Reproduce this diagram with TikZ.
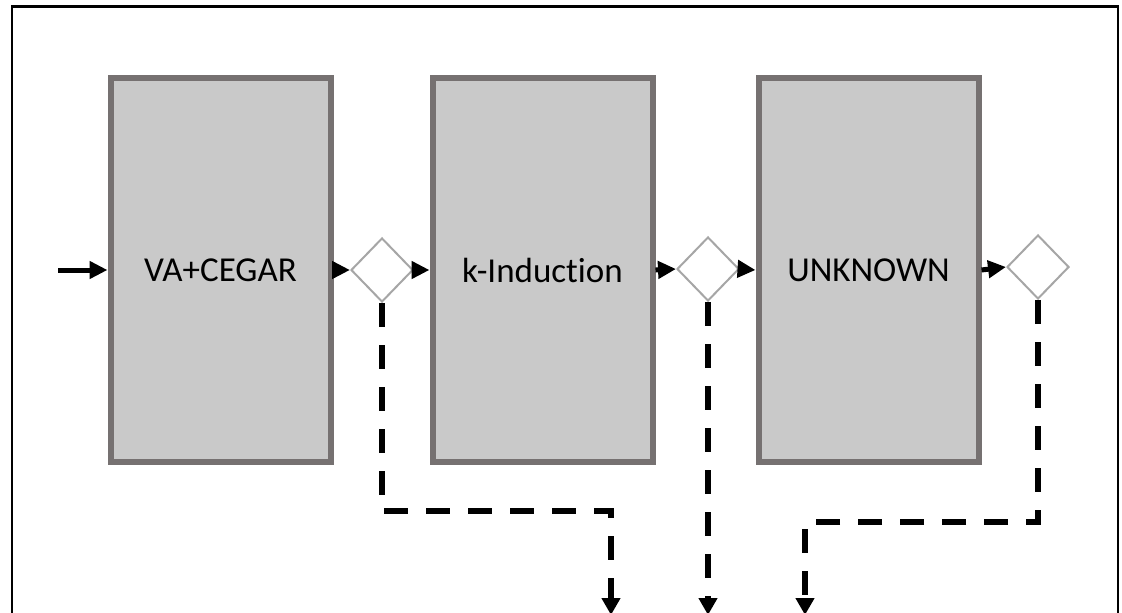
\documentclass[tikz,border=0pt]{standalone}
\usepackage{fontspec}
\setmainfont{Carlito}[RawFeature={-liga}]
\usetikzlibrary{shapes.geometric,arrows.meta}
\definecolor{boxfill}{HTML}{C9C9C9}
\definecolor{boxline}{HTML}{767171}
\definecolor{dialine}{HTML}{A6A6A6}
\tikzset{
  stage/.style={draw=boxline, fill=boxfill, line width=6pt, rectangle,
    minimum width=220pt, minimum height=384pt, inner sep=0pt,
    font=\fontsize{35}{40}\selectfont, text=black},
  decision/.style={draw=dialine, fill=white, line width=2pt, diamond,
    minimum width=62pt, minimum height=64pt, inner sep=0pt},
  flow/.style={line width=5pt, -{Triangle[length=18pt,width=17pt]}},
  branch/.style={line width=6pt, dash pattern=on 24pt off 18pt,
    -{Triangle[length=17pt,width=18pt]}},
}
\begin{document}
\begin{tikzpicture}[x=1pt,y=-1pt]
\useasboundingbox (0,0) rectangle (1122,613);
\fill[white] (0,0) rectangle (1122,613);
\draw[line width=2.5pt] (12,625) -- (12,6.5) -- (1118,6.5) -- (1118,625);

\node[stage] (b1) at (220.5,270) {VA+CEGAR};
\node[stage] (b2) at (542.5,270) {k-Induction};
\node[stage] (b3) at (868.5,270) {UNKNOWN};

\node[decision] (d1) at (382,270) {};
\node[decision] (d2) at (708,269) {};
\node[decision] (d3) at (1038,267) {};

\coordinate (in) at (58,270);
\coordinate (e1) at (611,615);
\coordinate (e2) at (708,615);
\coordinate (e3) at (805,615);

\draw[flow] (in) -- (b1.west);
\draw[flow] (b1.east) -- (d1.west);
\draw[flow] (d1.east) -- (b2.west);
\draw[flow] (b2.east) -- (d2.west);
\draw[flow] (d2.east) -- (b3.west);
\draw[flow] (b3.east) -- (d3.west);

\draw[branch] (d1.south) |- (611,511) -- (e1);
\draw[branch] (d2.south) -- (e2);
\draw[branch] (d3.south) |- (805,522) -- (e3);
\end{tikzpicture}
\end{document}
